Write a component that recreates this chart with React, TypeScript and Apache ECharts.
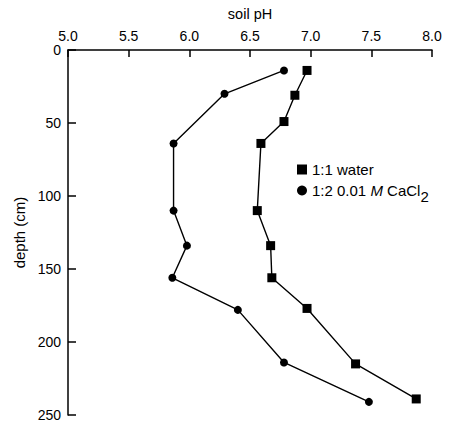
import React, { useEffect, useRef } from "react";
import * as echarts from "echarts";

const waterPH = [6.97, 6.87, 6.78, 6.59, 6.56, 6.67, 6.68, 6.97, 7.37, 7.87];
const waterDepth = [14, 31, 49, 64, 110, 134, 156, 177, 215, 239];
const cacl2PH = [6.78, 6.29, 5.87, 5.87, 5.98, 5.86, 6.4, 6.78, 7.48];
const cacl2Depth = [14, 30, 64, 110, 134, 156, 178, 214, 241];
const seriesNames = ["1:1 water", "1:2 0.01 M CaCl2"];

export default function App() {
  const ref = useRef<HTMLDivElement>(null);
  useEffect(() => {
    if (!ref.current) return;
    const chart = echarts.init(ref.current, null, { renderer: "svg" });
    const font = "'Liberation Sans', Arial, Helvetica, sans-serif";
    const lineStyle = { color: "#000", width: 1.4 };
    chart.setOption({
      animation: false,
      backgroundColor: "#fff",
      textStyle: { fontFamily: font, color: "#000" },
      grid: {
        left: 68,
        top: 50,
        width: 364,
        height: 365,
        containLabel: false,
        outerBoundsMode: "none",
      },
      legend: {
        orient: "vertical",
        left: 292,
        top: 157,
        itemWidth: 10,
        itemHeight: 10,
        itemGap: 6,
        textStyle: {
          fontFamily: font,
          fontSize: 15,
          color: "#000",
          rich: {
            i: { fontStyle: "italic", fontSize: 15, fontFamily: font, color: "#000" },
            s: { fontSize: 15, fontFamily: font, color: "#000", padding: [12, 0, 0, 0] },
          },
        },
        formatter: (name: string) =>
          name === seriesNames[1] ? "1:2 0.01 {i|M} CaCl{s|2}" : name,
        data: [
          { name: seriesNames[0], icon: "rect" },
          { name: seriesNames[1], icon: "circle" },
        ],
      },
      xAxis: {
        type: "value",
        position: "top",
        min: 5,
        max: 8,
        interval: 0.5,
        name: "soil pH",
        nameLocation: "middle",
        nameGap: 29,
        nameTextStyle: { fontSize: 14.5, color: "#000", fontFamily: font },
        axisLine: { show: true, lineStyle: { color: "#000", width: 1.5 } },
        axisTick: { show: true, inside: true, length: 7, lineStyle: { color: "#000", width: 1.5 } },
        axisLabel: {
          fontSize: 14,
          color: "#000",
          margin: 7,
          formatter: (v: number) => v.toFixed(1),
        },
        splitLine: { show: false },
      },
      yAxis: {
        type: "value",
        inverse: true,
        min: 0,
        max: 250,
        interval: 50,
        name: "depth (cm)",
        nameLocation: "middle",
        nameGap: 37,
        nameRotate: 90,
        nameTextStyle: { fontSize: 15, color: "#000", fontFamily: font },
        axisLine: { show: true, lineStyle: { color: "#000", width: 1.5 } },
        axisTick: { show: true, inside: true, length: 8, lineStyle: { color: "#000", width: 1.5 } },
        axisLabel: { fontSize: 14, color: "#000", margin: 7 },
        splitLine: { show: false },
      },
      series: [
        {
          name: seriesNames[0],
          type: "line",
          symbol: "rect",
          symbolSize: 9,
          itemStyle: { color: "#000" },
          lineStyle,
          data: waterPH.map((v, i) => [v, waterDepth[i]]),
        },
        {
          name: seriesNames[1],
          type: "line",
          symbol: "circle",
          symbolSize: 8,
          itemStyle: { color: "#000" },
          lineStyle,
          data: cacl2PH.map((v, i) => [v, cacl2Depth[i]]),
        },
      ],
    });
    return () => chart.dispose();
  }, []);
  return (
    <div
      ref={ref}
      style={{ position: "fixed", left: 0, top: 0, width: 450, height: 438, background: "#fff" }}
    />
  );
}
